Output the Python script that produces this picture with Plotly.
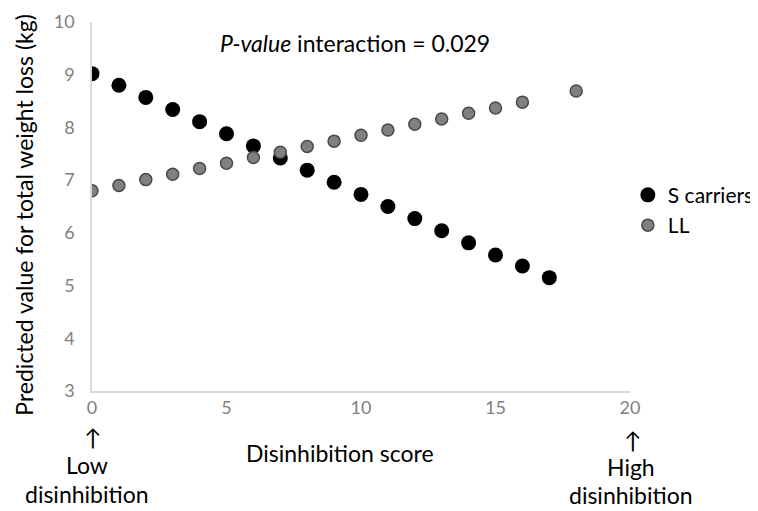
import plotly.graph_objects as go

x_s = list(range(0, 18))
y_s = [9.02, 8.80, 8.57, 8.34, 8.11, 7.88, 7.65, 7.42, 7.19, 6.96, 6.73, 6.50, 6.27, 6.04, 5.81, 5.58, 5.37, 5.15]
x_ll = list(range(0, 17)) + [18]
y_ll = [6.80, 6.90, 7.01, 7.11, 7.22, 7.32, 7.43, 7.53, 7.64, 7.74, 7.85, 7.95, 8.06, 8.16, 8.27, 8.37, 8.48, 8.69]

x_ticks = [0, 5, 10, 15, 20]
y_ticks = [3, 4, 5, 6, 7, 8, 9, 10]

FONT = "Lato, Liberation Sans, sans-serif"
TS = 23

fig = go.Figure()
fig.add_trace(go.Scatter(x=x_s, y=y_s, mode="markers", name="S carriers",
                         marker=dict(color="#000000", size=15,
                                     line=dict(width=0))))
fig.add_trace(go.Scatter(x=x_ll, y=y_ll, mode="markers", name="LL",
                         marker=dict(color="#808080", size=12,
                                     line=dict(width=1.5, color="#4a4a4a"))))

fig.update_layout(
    width=750, height=503,
    margin=dict(l=84, r=128, t=14, b=120, autoexpand=False),
    paper_bgcolor="white", plot_bgcolor="white",
    font=dict(family=FONT, color="#000000", size=21),
    showlegend=True,
    legend=dict(x=0.996, y=0.49, xanchor="left", yanchor="middle",
                font=dict(size=21, family=FONT), itemwidth=30,
                tracegroupgap=0, bgcolor="rgba(0,0,0,0)"),
    xaxis=dict(range=[0, 20], tickvals=x_ticks, showgrid=False, zeroline=False,
               showline=True, linecolor="#d9d9d9", linewidth=1.5,
               tickfont=dict(size=18, color="#7f7f7f", family=FONT),
               ticks="", ticklen=0, automargin=False),
    yaxis=dict(range=[3, 10], tickvals=y_ticks, showgrid=False, zeroline=False,
               showline=True, linecolor="#d9d9d9", linewidth=1.5,
               tickfont=dict(size=18, color="#7f7f7f", family=FONT),
               ticks="outside", ticklen=12, tickcolor="rgba(0,0,0,0)",
               automargin=False),
)

def note(text, x, y, size=TS, **kw):
    fig.add_annotation(text=text, xref="paper", yref="paper", x=x, y=y,
                       showarrow=False, font=dict(size=size, family=FONT),
                       xanchor="center", yanchor="middle", **kw)

note("Predicted value for total weight loss (kg)", -0.127, 0.477, textangle=-90)
note("<i>P-value</i> interaction = 0.029", 0.489, 0.943)
note("Disinhibition score", 0.461, -0.168)
note("↑", 0.0, -0.125)
note("Low", -0.009, -0.201)
note("disinhibition", -0.009, -0.279)
note("↑", 1.004, -0.133)
note("High", 1.002, -0.206)
note("disinhibition", 1.002, -0.282)

fig.write_html("out.html")
